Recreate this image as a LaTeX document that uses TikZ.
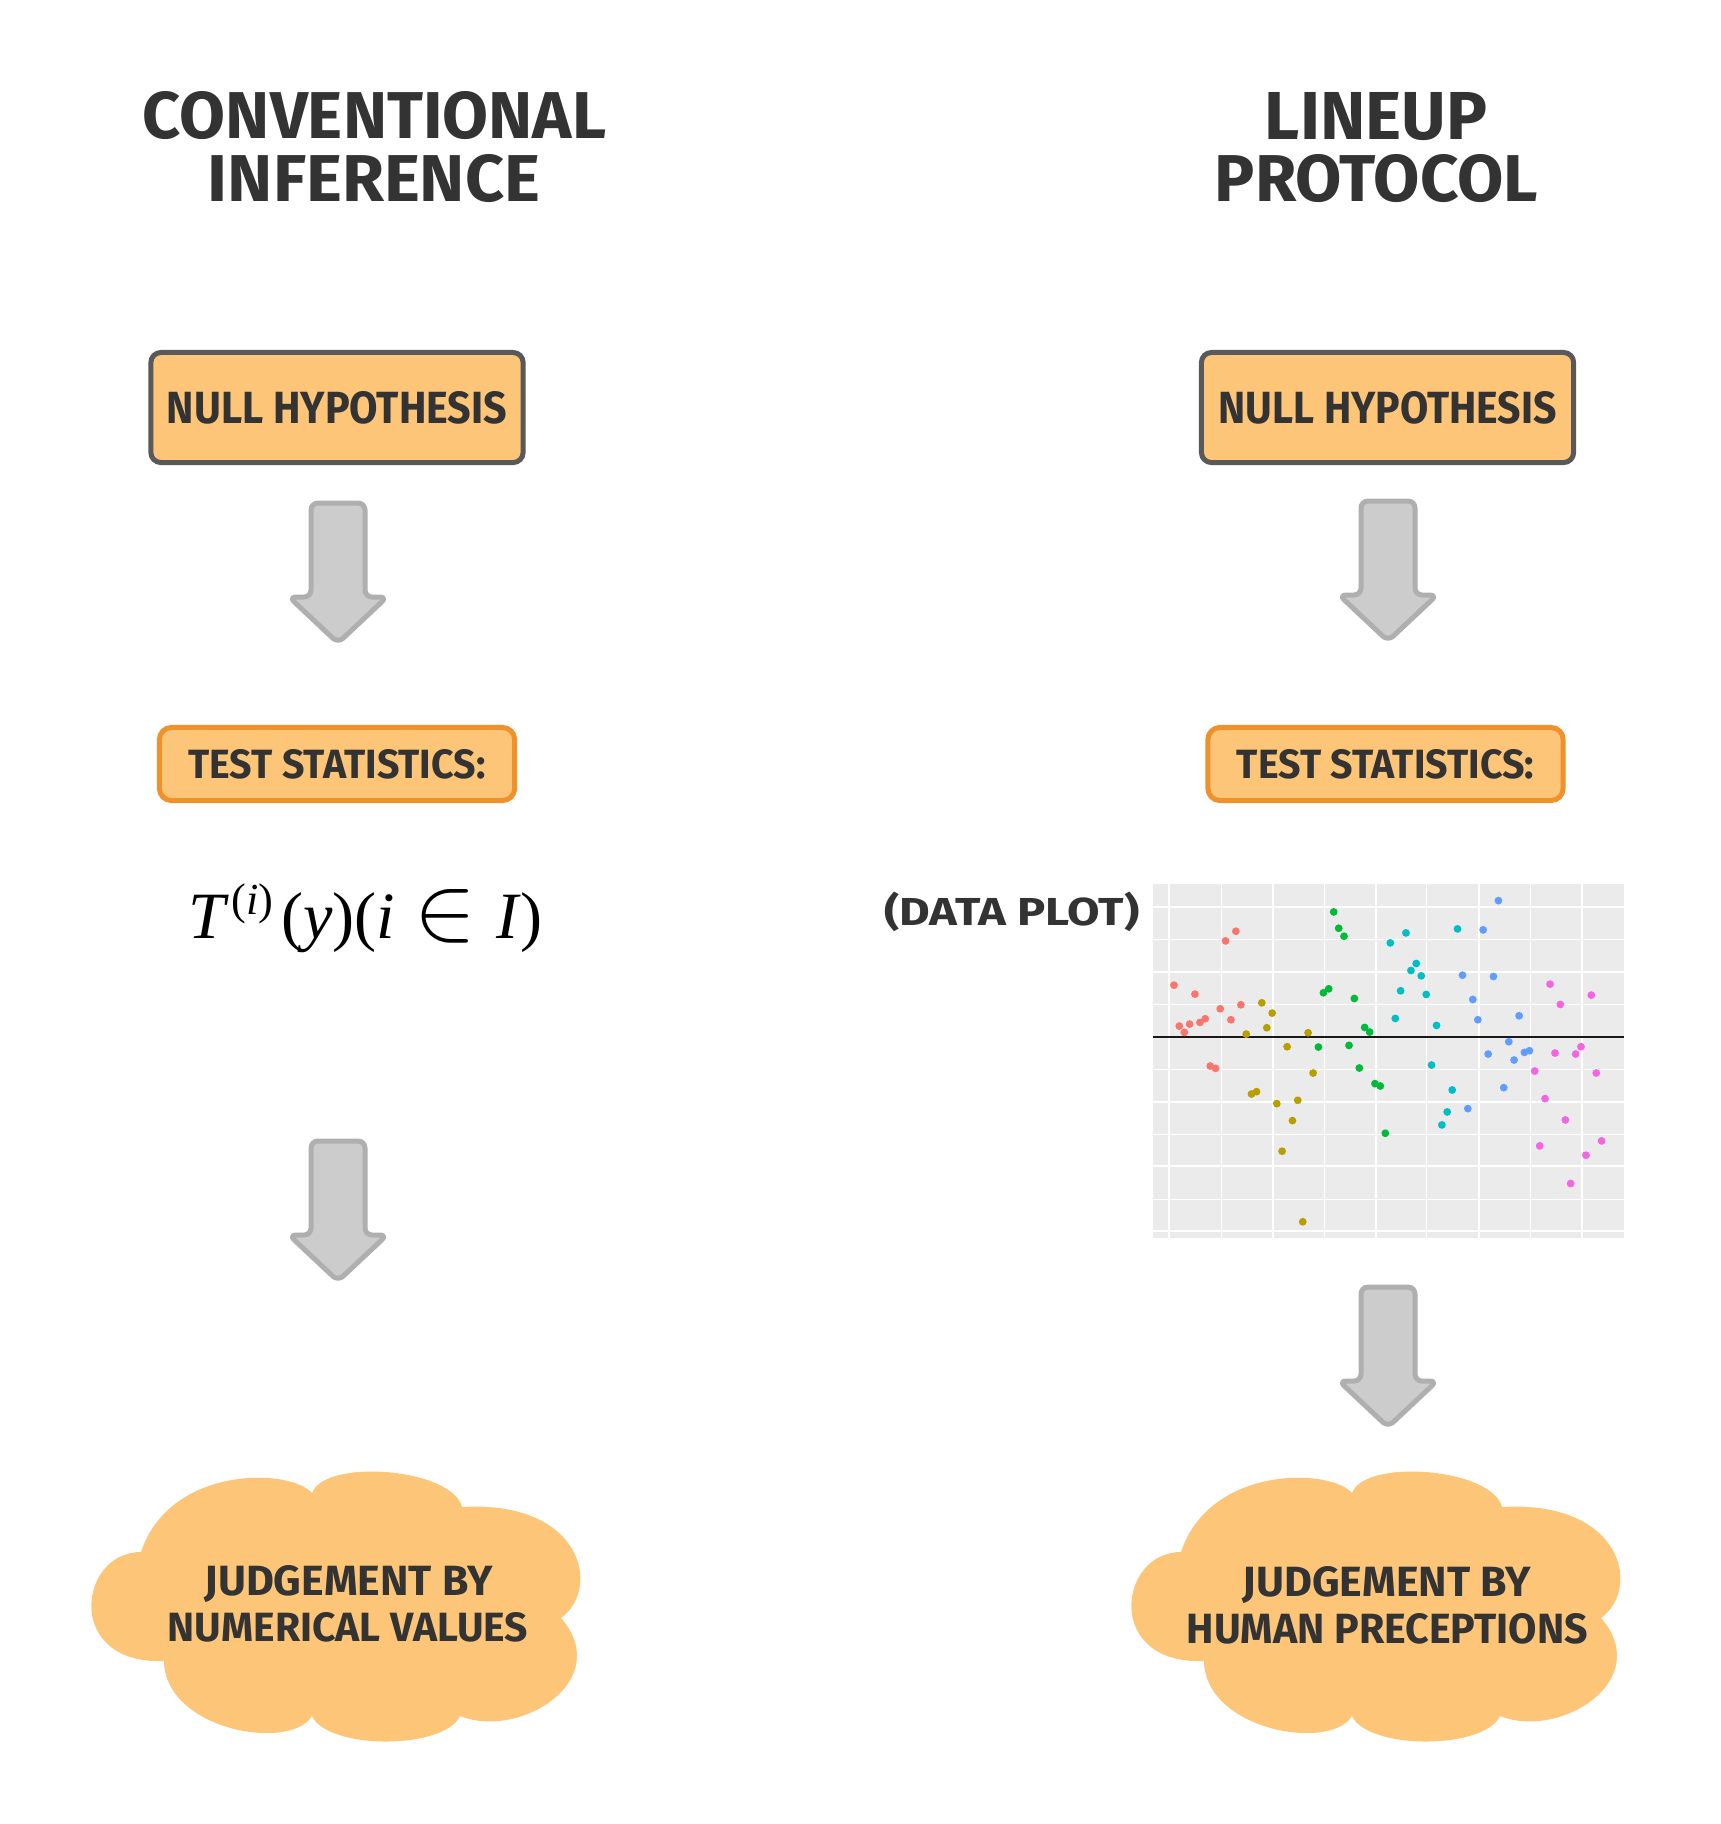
\documentclass[tikz,border=0pt]{standalone}
\usepackage{mathptmx}
\usepackage[no-math]{fontspec}
\usepackage{graphicx}
\newfontfamily\hand{Fira Sans}
\newfontfamily\tms{Liberation Serif}
\definecolor{boxfill}{HTML}{FDC578}
\definecolor{boxline}{HTML}{595959}
\definecolor{statline}{HTML}{F0912C}
\definecolor{arrfill}{HTML}{CCCCCC}
\definecolor{arrline}{HTML}{AFAFAF}
\definecolor{ink}{HTML}{333333}
\definecolor{panel}{HTML}{EBEBEB}
\definecolor{cR}{HTML}{F8766D}
\definecolor{cO}{HTML}{B79F00}
\definecolor{cG}{HTML}{00BA38}
\definecolor{cC}{HTML}{00BFC4}
\definecolor{cB}{HTML}{619CFF}
\definecolor{cM}{HTML}{F564E3}
\newcommand{\sizedtext}[3]{\resizebox{#1cm}{#2cm}{#3}}
\newcommand{\blockarrow}[2]{%
  \draw[arrowbox] ({#1-27},{#2+2}) -- ({#1+27},{#2+2}) -- ({#1+27},{#2+96}) -- ({#1+49},{#2+96}) -- ({#1},{#2+142}) -- ({#1-49},{#2+96}) -- ({#1-27},{#2+96}) -- cycle;}
\newcommand{\cloudshape}{(141,1552) .. controls (78,1552) and (64,1665) .. (164,1661) .. controls (165,1730) and (290,1752) .. (312,1716) .. controls (328,1750) and (444,1750) .. (460,1716) .. controls (520,1740) and (615,1680) .. (561,1618) .. controls (602,1588) and (582,1500) .. (462,1507) .. controls (452,1468) and (325,1458) .. (312,1493) .. controls (290,1468) and (170,1465) .. (141,1552) -- cycle}
\tikzset{
  hbox/.style={draw=boxline, line width=0.05cm, fill=boxfill, rounded corners=0.1cm, minimum width=3.72cm, minimum height=1.10cm, inner sep=0pt, text=ink, font=\hand\bfseries},
  sbox/.style={draw=statline, line width=0.05cm, fill=boxfill, rounded corners=0.12cm, minimum width=3.55cm, minimum height=0.73cm, inner sep=0pt, text=ink, font=\hand\bfseries},
  lbl/.style={inner sep=0pt, text=ink, anchor=base, font=\hand\bfseries},
  arrowbox/.style={draw=arrline, fill=arrfill, line width=0.05cm, rounded corners=0.07cm, line join=round},
  cloudfill/.style={fill=boxfill},
  dot/.style={radius=0.039cm},
}
\begin{document}
\begin{tikzpicture}[x=0.01cm, y=-0.01cm]
\useasboundingbox (0,0) rectangle (1721,1824);
\fill[white] (0,0) rectangle (1721,1824);

% titles
\node[lbl] (t1) at (374.5,139) {\sizedtext{4.63}{0.47}{CONVENTIONAL}};
\node[lbl] (t2) at (374,202) {\sizedtext{3.32}{0.47}{INFERENCE}};
\node[lbl] (t3) at (1376,139) {\sizedtext{2.22}{0.47}{LINEUP}};
\node[lbl] (t4) at (1376.5,202) {\sizedtext{3.23}{0.47}{PROTOCOL}};

% null hypothesis boxes
\node[hbox] (nullL) at (337,407.5) {\sizedtext{3.40}{0.32}{NULL HYPOTHESIS}};
\node[hbox] (nullR) at (1387.5,407.5) {\sizedtext{3.38}{0.32}{NULL HYPOTHESIS}};

% arrows
\blockarrow{338}{501}
\blockarrow{1388}{499}
\blockarrow{338}{1139}
\blockarrow{1388}{1285}

% test statistics boxes
\node[sbox] (statL) at (337,764) {\sizedtext{2.97}{0.29}{TEST STATISTICS:}};
\node[sbox] (statR) at (1385.5,764) {\sizedtext{2.97}{0.29}{TEST STATISTICS:}};

% formula
\node[inner sep=0pt, anchor=base west] (formula) at (188,938) {\resizebox{3.54cm}{!}{\fontsize{18.5pt}{20pt}\tms\textit{T}\kern0.03em\raisebox{6.5pt}{\fontsize{12.4pt}{13pt}\selectfont(\textit{i})}\kern0.12em(\textit{y})(\textit{i}\hspace{0.3em}\raisebox{-0.4pt}{\scalebox{1.4}{$\in$}}\hspace{0.3em}\textit{I})}};

% data plot label
\node[lbl] (dlabel) at (1012,925.5) {\sizedtext{2.55}{0.335}{(DATA PLOT)}};

% data plot
\fill[panel] (1153,884) rectangle (1624,1238);
\foreach \yy in {939.3,1004.3,1069.3,1134,1199}
  \draw[white, line width=0.01cm] (1153,\yy) -- (1624,\yy);
\foreach \xx in {1221,1324.3,1426.7,1530.3}
  \draw[white, line width=0.01cm] (\xx,884) -- (\xx,1238);
\foreach \yy in {906.7,971.7,1101.7,1166.3,1231.3}
  \draw[white, line width=0.02cm] (1153,\yy) -- (1624,\yy);
\foreach \xx in {1169,1272.7,1375.7,1479,1582.3}
  \draw[white, line width=0.02cm] (\xx,884) -- (\xx,1238);
\draw[black!90, line width=0.02cm] (1153,1036.7) -- (1624,1036.7);
\begin{scope}[shift={(1150,870)}, x=0.0033333cm, y=-0.0033333cm]
  \foreach \a/\b in {72/346,135/373,88/469,103/488,119/463,150/458,166/447,211/417,243/450,273/405,227/213,258/184,181/589,197/596}
    \fill[cR] (\a,\b) circle[dot];
  \foreach \a/\b in {289/493,336/399,367/430,351/474,305/673,320/666,412/531,381/702,444/692,428/753,397/845,475/489,490/610,459/1057}
    \fill[cO] (\a,\b) circle[dot];
  \foreach \a/\b in {552/126,567/175,583/199,521/369,537/357,614/386,506/532,598/527,645/473,660/487,629/595,676/642,692/649,707/791}
    \fill[cG] (\a,\b) circle[dot];
  \foreach \a/\b in {722/219,769/189,784/302,800/281,815/318,753/363,830/374,737/446,861/467,924/177,846/586,908/661,893/727,877/766}
    \fill[cC] (\a,\b) circle[dot];
  \foreach \a/\b in {1047/92,1001/180,939/316,1032/320,970/389,985/450,1109/438,1078/516,1016/553,1094/571,1125/548,1140/543,1063/654,955/717}
    \fill[cB] (\a,\b) circle[dot];
  \foreach \a/\b in {1202/343,1233/404,1326/376,1217/550,1279/553,1295/531,1156/604,1341/610,1187/687,1248/751,1171/829,1310/857,1357/814,1264/942}
    \fill[cM] (\a,\b) circle[dot];
\end{scope}

% clouds
\fill[cloudfill] \cloudshape;
\begin{scope}[shift={(1040,0)}]
  \fill[cloudfill] \cloudshape;
\end{scope}
\node[lbl] (j1) at (348.7,1595) {\sizedtext{2.88}{0.30}{JUDGEMENT BY}};
\node[lbl] (j2) at (348,1641.7) {\sizedtext{3.60}{0.29}{NUMERICAL VALUES}};
\node[lbl] (j3) at (1387,1596) {\sizedtext{2.885}{0.30}{JUDGEMENT BY}};
\node[lbl] (j4) at (1387.4,1643) {\sizedtext{4.01}{0.30}{HUMAN PRECEPTIONS}};
\end{tikzpicture}
\end{document}
